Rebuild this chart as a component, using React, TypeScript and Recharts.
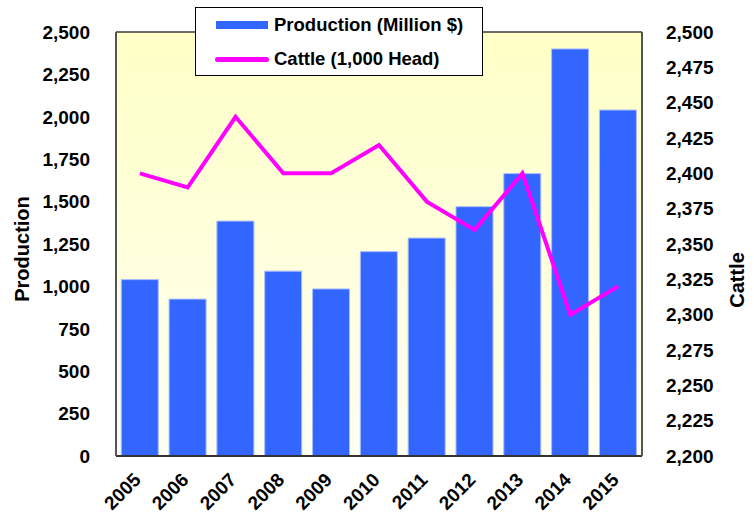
import React from "react";
import {
  ComposedChart,
  Bar,
  Line,
  XAxis,
  YAxis,
  CartesianGrid,
  Legend,
} from "recharts";

// values
const years = ["2005", "2006", "2007", "2008", "2009", "2010", "2011", "2012", "2013", "2014", "2015"];
const production = [1040, 925, 1385, 1090, 985, 1205, 1285, 1470, 1665, 2400, 2040];
const cattle = [2400, 2390, 2440, 2400, 2400, 2420, 2380, 2360, 2400, 2300, 2320];

const productionTicks = [0, 250, 500, 750, 1000, 1250, 1500, 1750, 2000, 2250, 2500];
const cattleTicks = [2200, 2225, 2250, 2275, 2300, 2325, 2350, 2375, 2400, 2425, 2450, 2475, 2500];

const data = years.map((year, i) => ({
  year,
  production: production[i],
  cattle: cattle[i],
}));

const FONT = '"Liberation Sans", Arial, sans-serif';
const tickStyle = { fill: "#000", fontSize: 19, fontWeight: "bold", fontFamily: FONT };
const fmt = (v: number) => v.toLocaleString("en-US");

const YearTick = (props: any) => {
  const { x, y, payload } = props;
  return (
    <g transform={`translate(${x + 2},${y + 17})`}>
      <text
        textAnchor="end"
        transform="rotate(-45)"
        fill="#000"
        fontSize={19}
        fontWeight="bold"
        fontFamily={FONT}
      >
        {payload.value}
      </text>
    </g>
  );
};

const AxisTitle = (props: any) => {
  const { viewBox, value, dx, dy } = props;
  const cx = viewBox.x + viewBox.width / 2 + dx;
  const cy = viewBox.y + viewBox.height / 2 + dy;
  return (
    <text
      x={cx}
      y={cy}
      transform={`rotate(-90 ${cx} ${cy})`}
      textAnchor="middle"
      dominantBaseline="central"
      fill="#000"
      fontSize={20}
      fontWeight="bold"
      fontFamily={FONT}
    >
      {value}
    </text>
  );
};

const LegendBox = () => (
  <div
    style={{
      width: 288,
      height: 69,
      boxSizing: "border-box",
      border: "1px solid #000",
      background: "#fff",
      fontFamily: FONT,
      fontWeight: "bold",
      fontSize: 18.5,
      color: "#000",
      position: "relative",
    }}
  >
    <div style={{ position: "absolute", left: 20, top: 13, width: 52, height: 8, background: "#3366ff" }} />
    <div style={{ position: "absolute", left: 78, top: 5, lineHeight: "24px" }}>Production (Million $)</div>
    <div
      style={{
        position: "absolute",
        left: 19,
        top: 49,
        width: 54,
        height: 5,
        borderRadius: 3,
        background: "#ff00ff",
      }}
    />
    <div style={{ position: "absolute", left: 78, top: 39, lineHeight: "24px" }}>Cattle (1,000 Head)</div>
  </div>
);

export default function App() {
  return (
    <div style={{ position: "absolute", left: 0, top: 0, width: 754, height: 516, background: "#fff" }}>
      <ComposedChart
        width={754}
        height={516}
        data={data}
        margin={{ top: 32, right: 0, bottom: 0, left: 0 }}
        barCategoryGap="11%"
      >
        <defs>
          <linearGradient id="plotBg" x1="0" y1="0" x2="0" y2="1">
            <stop offset="0%" stopColor="#ffffc6" />
            <stop offset="100%" stopColor="#fffff2" />
          </linearGradient>
        </defs>
        <CartesianGrid
          vertical={false}
          stroke="#3a3a3a"
          strokeWidth={1.3}
          fill="url(#plotBg)"
          fillOpacity={1}
        />
        <XAxis
          dataKey="year"
          height={60}
          tickLine={false}
          axisLine={{ stroke: "#333", strokeWidth: 2 }}
          tick={<YearTick />}
          interval={0}
        />
        <YAxis
          yAxisId="left"
          width={116}
          domain={[0, 2500]}
          ticks={productionTicks}
          tickFormatter={fmt}
          tick={tickStyle}
          tickLine={false}
          tickMargin={20}
          axisLine={{ stroke: "#555", strokeWidth: 2 }}
          label={<AxisTitle value="Production" dx={-36} dy={5} />}
        />
        <YAxis
          yAxisId="right"
          orientation="right"
          width={112}
          domain={[2200, 2500]}
          ticks={cattleTicks}
          tickFormatter={fmt}
          tick={{ ...tickStyle, textAnchor: "start" }}
          tickLine={false}
          tickMargin={18}
          axisLine={{ stroke: "#555", strokeWidth: 2 }}
          label={<AxisTitle value="Cattle" dx={39} dy={36} />}
        />
        <Legend
          layout="vertical"
          align="center"
          verticalAlign="middle"
          wrapperStyle={{ left: 195, top: 7, width: 288, height: 69 }}
          content={<LegendBox />}
        />
        <Bar
          yAxisId="left"
          dataKey="production"
          name="Production (Million $)"
          fill="#3366ff"
          stroke="#a9bcff"
          strokeWidth={1}
          isAnimationActive={false}
        />
        <Line
          yAxisId="right"
          dataKey="cattle"
          name="Cattle (1,000 Head)"
          type="linear"
          stroke="#ff00ff"
          strokeWidth={4}
          dot={false}
          activeDot={false}
          isAnimationActive={false}
        />
      </ComposedChart>
    </div>
  );
}
